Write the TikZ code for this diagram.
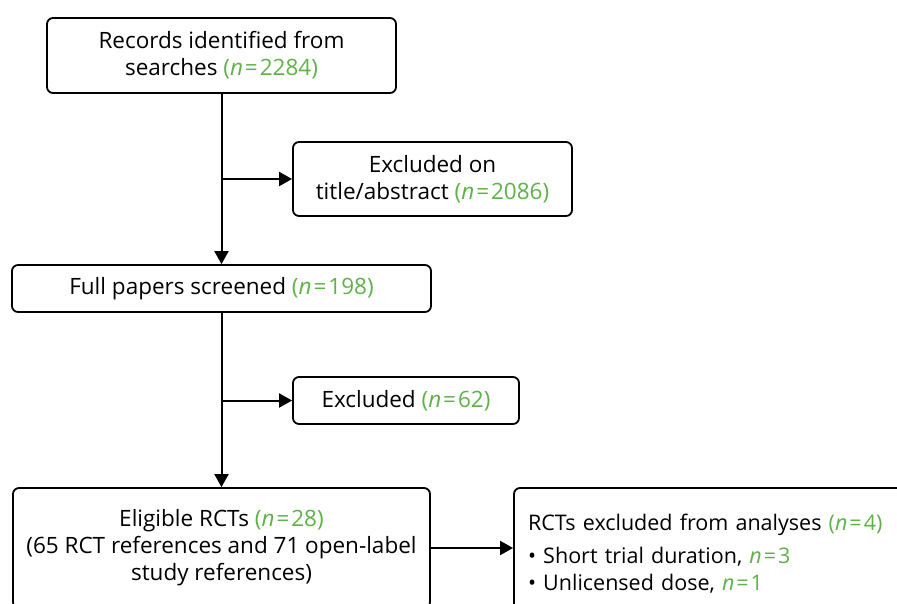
\documentclass[tikz,border=0pt]{standalone}
\usepackage{fontspec}
\setmainfont{Open Sans}
\usetikzlibrary{arrows.meta,calc}
\definecolor{ngreen}{RGB}{94,178,72}
\newcommand{\nn}[1]{\textcolor{ngreen}{(\textit{n}\kern2pt=\kern2pt#1)}}
\newcommand{\nv}[1]{\textcolor{ngreen}{\textit{n}\kern2pt=\kern2pt#1}}
\begin{document}
\begin{tikzpicture}[x=1pt,y=-1pt,
  box/.style={draw,line width=1.8pt,rounded corners=6pt,align=center,inner sep=0pt,
    font=\fontsize{22.5}{27}\selectfont},
  arr/.style={line width=2pt,-{Triangle[length=13pt,width=14pt]}}]
\path[use as bounding box] (0,0) rectangle (897,603);
\clip (0,0) rectangle (897,603);
\node[box,minimum width=349pt,minimum height=75pt] (b1) at (221.5,55.5)
  {Records identified from\\searches \nn{2284}};
\node[box,minimum width=279pt,minimum height=74pt] (b2) at (432.5,179)
  {Excluded on\\title/abstract \nn{2086}};
\node[box,minimum width=419pt,minimum height=47pt] (b3) at (221.5,288.5)
  {Full papers screened \nn{198}};
\node[box,minimum width=226pt,minimum height=47pt] (b4) at (406,400.5)
  {Excluded \nn{62}};
\node[box,minimum width=417pt,minimum height=120pt] (b5) at (221.5,548)
  {Eligible RCTs \nn{28}\\(65 RCT references and 71 open-label\\study references)};
\node[box,minimum width=406pt,minimum height=132pt,text width=378pt,align=left,inner xsep=14pt,
  font=\fontsize{21.5}{27}\selectfont] (b6) at (717,554)
  {RCTs excluded from analyses \nn{4}\\[6pt]
   \textbullet\ Short trial duration, \nv{3}\\
   \textbullet\ Unlicensed dose, \nv{1}\\[8pt]};
\draw[arr] (b1.south) -- (b3.north);
\draw[arr] (b1.south |- b2.west) -- (b2.west);
\draw[arr] (b3.south) -- (b5.north);
\draw[arr] (b3.south |- b4.west) -- (b4.west);
\draw[arr] (b5.east) -- (b5.east -| b6.west);
\end{tikzpicture}
\end{document}
